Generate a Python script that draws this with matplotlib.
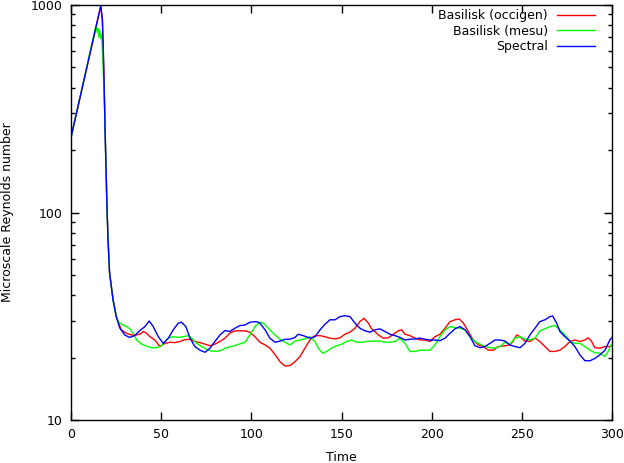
import matplotlib
matplotlib.use('Agg')
import matplotlib.pyplot as plt
import matplotlib.ticker as mtick
import numpy as np

# (time, microscale Reynolds number)
occigen = [(0, 230), (16.5, 990), (17.4, 850), (17.9, 610), (18.4, 400), (18.9, 250), (19.8, 120),
           (20.5, 75), (21.4, 51), (23.3, 38.5), (25.1, 31.5), (27.9, 27.2), (30.6, 26.2), (33.5, 25.7),
           (36.2, 25.7), (38.2, 25.9), (40.1, 26.7), (41.9, 26.2), (43.8, 25.2), (46.5, 24.3), (49.3, 22.6),
           (52.1, 23.4), (54.9, 23.7), (57.6, 23.6), (60.4, 23.9), (63.2, 24.4), (66.0, 24.5), (68.7, 23.9),
           (71.5, 23.6), (74.3, 23.2), (77.1, 22.8), (79.8, 23.2), (82.6, 23.9), (85.4, 24.8), (88.1, 26.2),
           (90.9, 26.9), (93.7, 26.9), (96.5, 26.9), (99.2, 26.5), (102.0, 25.2), (104.8, 23.7), (107.6, 23.0),
           (110.3, 22.2), (113.1, 20.7), (115.9, 19.1), (118.7, 18.2), (121.4, 18.3), (124.2, 19.1),
           (127.0, 20.2), (129.7, 22.2), (132.5, 24.3), (135.3, 25.5), (138.1, 25.5), (140.8, 25.2),
           (143.6, 24.8), (146.4, 24.6), (149.2, 24.9), (151.9, 25.9), (154.7, 26.5), (157.5, 27.7),
           (160.2, 29.8), (162.5, 30.9), (164.9, 29.3), (166.7, 27.5), (168.6, 26.7), (170.4, 25.7),
           (173.2, 24.8), (176.0, 24.9), (178.7, 25.9), (181.5, 26.9), (183.4, 27.2), (185.2, 25.9),
           (188.0, 25.5), (190.8, 24.8), (193.5, 24.3), (196.3, 24.3), (199.1, 23.9), (201.8, 25.2),
           (204.6, 25.9), (207.4, 27.7), (210.2, 29.8), (212.9, 30.4), (215.3, 30.7), (217.6, 29.3),
           (220.3, 26.7), (223.1, 24.3), (225.9, 23.0), (228.6, 22.6), (231.4, 21.7), (234.2, 21.7),
           (237.0, 22.6), (240.7, 22.8), (243.4, 23.0), (245.2, 24.0), (247.1, 25.7), (249.0, 25.2),
           (251.7, 24.0), (254.5, 23.9), (257.3, 24.8), (260.0, 23.9), (262.8, 22.6), (265.6, 21.4),
           (268.4, 21.4), (271.1, 21.7), (273.9, 22.6), (276.7, 23.9), (279.4, 24.3), (282.2, 23.9),
           (285.0, 24.3), (286.8, 24.9), (288.7, 23.9), (290.5, 22.3), (293.3, 22.2), (296.1, 22.6),
           (298.8, 22.6), (300, 22.8)]

mesu = [(0, 230), (13.9, 800), (14.5, 740), (15.0, 770), (15.5, 700), (16.0, 750), (16.5, 690), (17.0, 720),
        (17.6, 560), (18.0, 450), (18.4, 390), (18.9, 250), (19.8, 118), (20.5, 74), (21.4, 51), (23.3, 38),
        (24.4, 33.5), (26.1, 29.8), (28.8, 28.7), (30.8, 28.2), (32.7, 27.5), (34.5, 26.2), (36.4, 24.3),
        (39.2, 23.2), (41.9, 22.7), (44.7, 22.3), (47.5, 22.3), (50.2, 22.8), (52.1, 23.9), (53.9, 24.8),
        (56.7, 25.2), (59.5, 25.0), (62.3, 25.2), (65.0, 25.5), (66.9, 24.8), (69.7, 23.4), (72.4, 22.6),
        (75.2, 21.9), (78.0, 21.5), (80.8, 21.4), (83.5, 21.7), (86.3, 22.3), (89.1, 22.6), (91.8, 23.0),
        (94.6, 23.4), (96.5, 23.7), (99.2, 25.7), (102.0, 28.2), (104.8, 29.6), (106.6, 29.3), (110.3, 27.2),
        (113.1, 25.7), (115.9, 24.5), (118.7, 23.7), (121.4, 23.0), (124.2, 24.0), (127.0, 24.3),
        (129.7, 24.6), (132.5, 25.2), (135.3, 23.9), (137.1, 22.2), (139.5, 21.0), (141.8, 21.4),
        (144.5, 22.2), (147.3, 22.8), (150.1, 23.2), (152.9, 23.9), (155.6, 24.3), (158.4, 23.7),
        (161.2, 23.7), (163.9, 23.9), (168.6, 24.0), (171.3, 24.0), (174.1, 23.7), (176.9, 23.7),
        (179.7, 23.9), (182.4, 24.8), (185.2, 23.4), (188.0, 21.4), (190.8, 21.4), (193.5, 21.7),
        (196.3, 21.7), (199.1, 21.7), (201.8, 23.0), (204.6, 25.2), (207.4, 27.2), (210.2, 28.2),
        (212.9, 27.9), (215.7, 27.7), (218.5, 27.2), (221.3, 25.2), (224.0, 23.9), (226.8, 23.2),
        (229.6, 22.6), (232.3, 22.3), (235.1, 22.2), (237.9, 22.6), (240.7, 23.7), (243.4, 23.2),
        (246.2, 24.8), (249.0, 25.2), (251.7, 24.5), (254.5, 24.3), (257.3, 24.8), (260.0, 26.9),
        (262.8, 27.5), (265.6, 28.2), (268.4, 28.5), (271.1, 27.2), (273.9, 25.7), (276.7, 23.9),
        (279.4, 23.4), (282.2, 23.4), (285.0, 22.6), (287.8, 21.7), (290.5, 21.1), (293.3, 21.0),
        (296.1, 20.2), (297.9, 21.4), (299.4, 23.0)]

spectral = [(0, 230), (16.5, 990), (17.4, 850), (17.9, 610), (18.4, 400), (18.9, 250), (19.8, 120),
            (20.5, 75), (21.4, 51), (23.3, 37.9), (25.1, 31.5), (27.0, 27.8), (29.8, 25.7), (32.5, 25.0),
            (35.3, 25.5), (38.2, 27.0), (41.0, 28.2), (43.4, 30.0), (45.6, 28.2), (48.4, 25.2), (51.2, 23.4),
            (54.0, 24.8), (56.7, 27.2), (59.5, 29.3), (61.3, 29.6), (63.7, 28.2), (66.0, 24.8), (68.7, 22.6),
            (71.5, 21.7), (74.3, 21.2), (77.1, 22.2), (79.8, 23.9), (82.6, 25.7), (85.4, 27.0), (88.1, 26.7),
            (90.9, 27.7), (93.7, 28.5), (96.5, 28.7), (99.2, 29.6), (102.9, 29.8), (104.8, 29.3),
            (107.6, 27.2), (110.3, 24.8), (113.1, 23.7), (115.9, 24.0), (118.7, 24.5), (121.4, 24.5),
            (124.2, 25.0), (126.0, 25.9), (128.8, 25.5), (132.5, 24.8), (135.3, 25.2), (138.1, 27.2),
            (140.8, 28.9), (143.6, 30.4), (146.4, 30.4), (149.2, 31.5), (151.9, 31.8), (154.7, 31.5),
            (157.5, 29.3), (160.2, 27.7), (163.0, 26.9), (165.8, 26.5), (168.6, 27.2), (171.3, 27.5),
            (174.1, 26.7), (176.9, 25.9), (179.7, 25.5), (182.4, 25.0), (185.2, 24.3), (188.0, 24.5),
            (190.8, 24.6), (193.5, 24.8), (196.3, 24.5), (199.1, 24.3), (201.8, 24.3), (204.6, 24.1),
            (207.4, 24.8), (210.2, 26.2), (212.9, 27.5), (215.7, 28.2), (218.5, 27.2), (221.3, 25.2),
            (224.0, 22.8), (226.8, 22.3), (229.6, 22.6), (232.3, 23.4), (235.1, 24.3), (237.9, 24.3),
            (240.7, 24.0), (243.4, 23.0), (246.2, 22.6), (249.0, 22.3), (251.7, 23.4), (254.5, 25.7),
            (257.3, 27.7), (260.0, 29.8), (262.8, 30.4), (265.6, 31.5), (267.1, 31.7), (269.3, 29.3),
            (271.1, 26.7), (273.9, 25.2), (276.7, 24.0), (279.4, 22.6), (282.2, 20.6), (285.0, 19.3),
            (287.8, 19.3), (290.5, 19.8), (293.3, 20.6), (296.1, 21.7), (298.8, 24.3), (300, 25.0)]

series = [('Basilisk (occigen)', occigen, '#ff0000'),
          ('Basilisk (mesu)', mesu, '#00ff00'),
          ('Spectral', spectral, '#0000ff')]

x_ticks = [0, 50, 100, 150, 200, 250, 300]
y_ticks = [10, 100, 1000]

plt.rcParams['font.family'] = 'DejaVu Sans'
plt.rcParams['font.size'] = 9

fig = plt.figure(figsize=(6.24, 4.63), dpi=100)
ax = fig.add_axes([71/624, 43/463, 541/624, 415/463])

for name, pts, col in series:
    t, v = zip(*pts)
    ax.plot(t, v, color=col, lw=1.0, label=name)

ax.set_yscale('log')
ax.set_xlim(0, 300)
ax.set_ylim(10, 1000)
ax.set_xticks(x_ticks)
ax.set_yticks(y_ticks)
ax.yaxis.set_major_formatter(mtick.FuncFormatter(lambda v, p: f'{v:g}'))
ax.yaxis.set_minor_locator(mtick.LogLocator(base=10, subs=np.arange(2, 10)))
ax.yaxis.set_minor_formatter(mtick.NullFormatter())
ax.tick_params(which='major', direction='in', length=6, width=1, top=True, right=True, pad=6)
ax.tick_params(which='minor', direction='in', length=3, width=1, top=True, right=True)
for s in ax.spines.values():
    s.set_linewidth(1.0)

ax.set_xlabel('Time', labelpad=7)
ax.set_ylabel('Microscale Reynolds number', labelpad=12)

# gnuplot style key: text right-aligned, sample line after it
ax.legend(loc='upper right', bbox_to_anchor=(1 - 17/541, 1 - 4/415), frameon=False, markerfirst=False,
          handlelength=3.05, handletextpad=0.7, labelspacing=0.2, borderaxespad=0, borderpad=0)

fig.savefig('out.png', dpi=100)
